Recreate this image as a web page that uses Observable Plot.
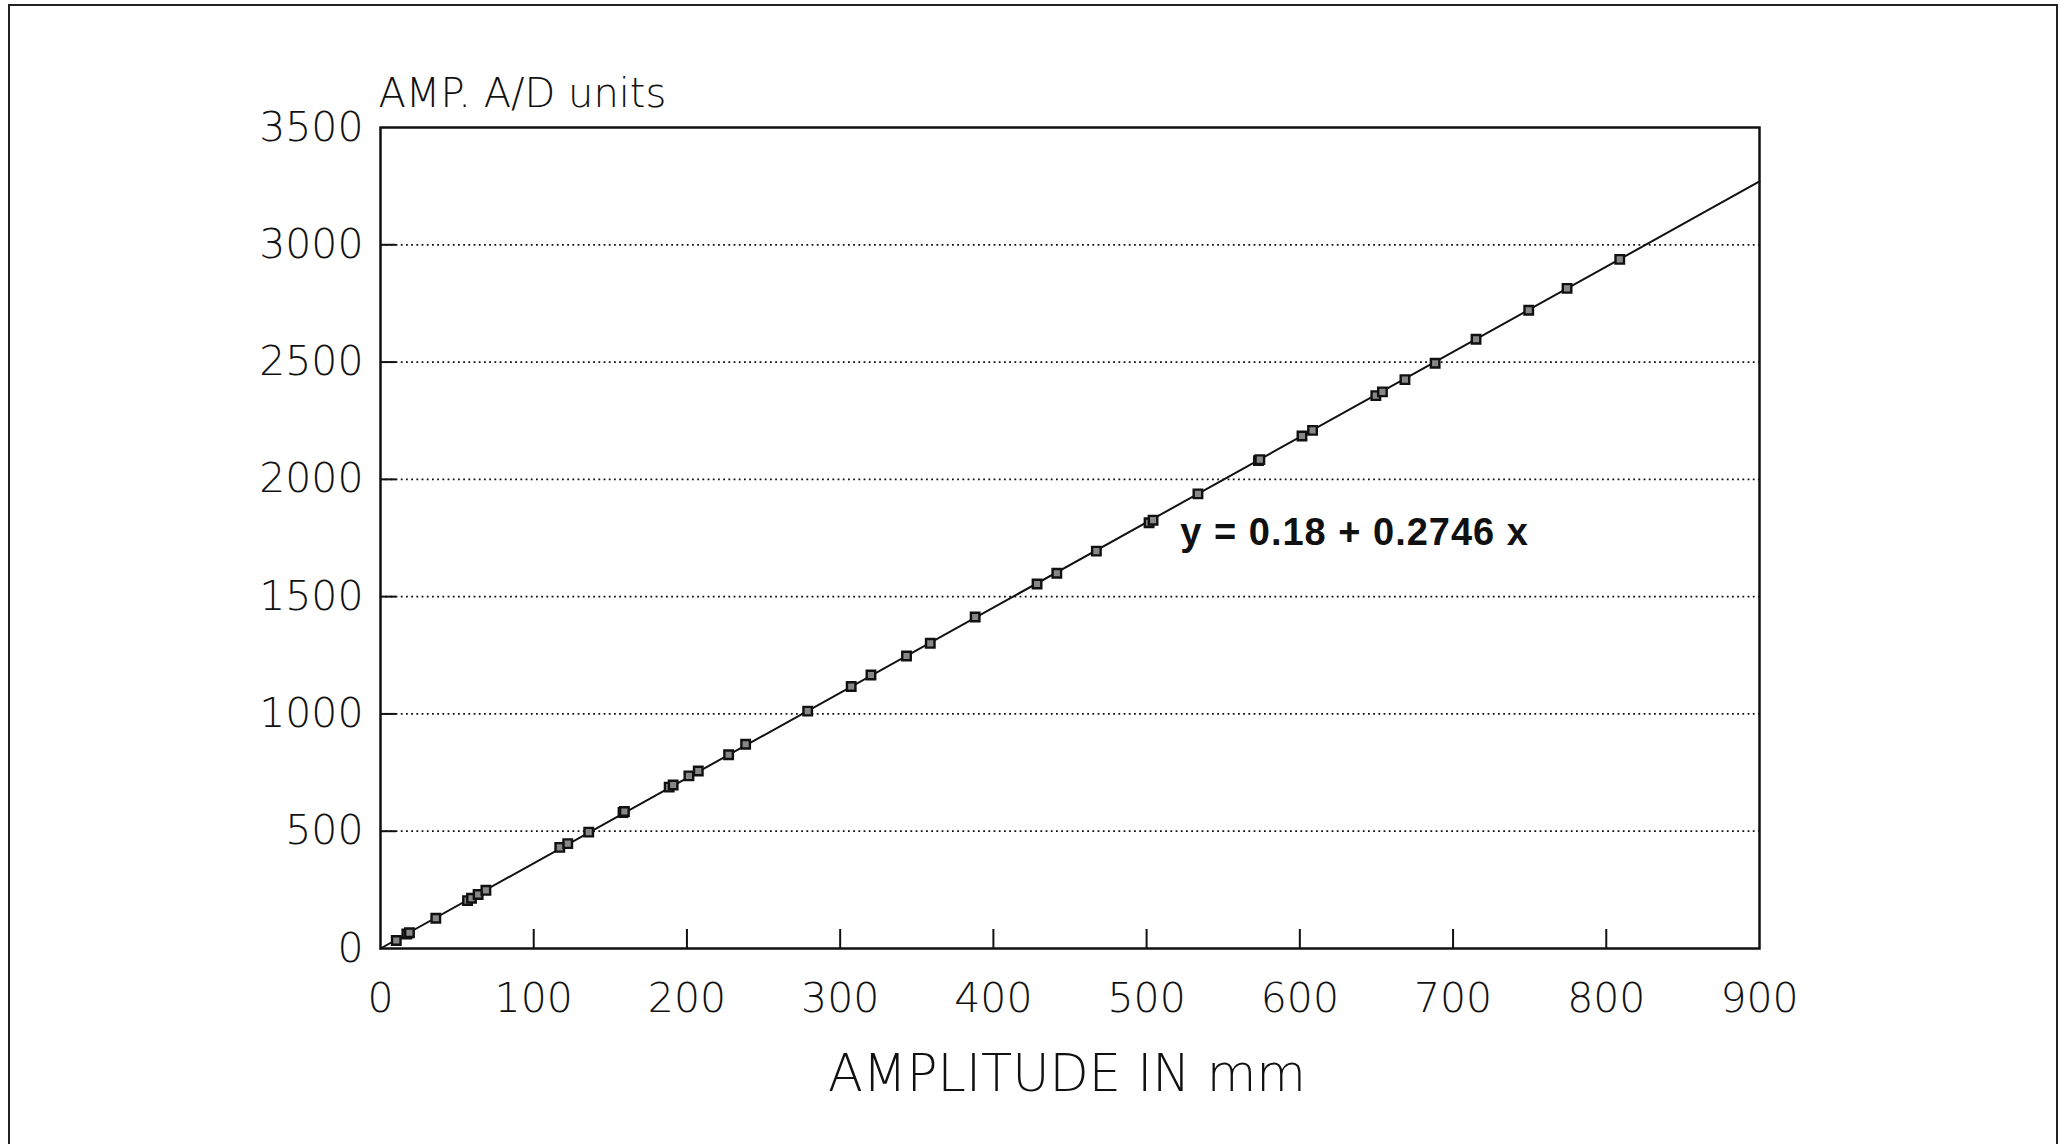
<!DOCTYPE html>
<html>
<head>
<meta charset="utf-8">
<script src="https://cdn.jsdelivr.net/npm/d3@7"></script>
<script src="https://cdn.jsdelivr.net/npm/@observablehq/plot@0.6"></script>
<style>
  html, body { margin: 0; padding: 0; background: #fff; color: #111; }
  #wrap { position: relative; width: 2068px; height: 1144px; overflow: hidden; }
  #border { position: absolute; left: 8px; top: 4px; width: 2046px; height: 1140px; border: 2px solid #222; pointer-events: none; }
  .eq text { letter-spacing: 1px; }
</style>
</head>
<body>
<div id="wrap"><div id="border"></div></div>
<script>
// ---- data ----
const amplitudeMm = [10.3, 17.2, 18.9, 36.1, 56.8, 59.4, 63.7, 68.8, 117.0, 122.2, 135.9, 158.3, 159.2,
  188.4, 191.0, 201.3, 207.4, 227.2, 238.3, 278.8, 307.2, 320.1, 343.3, 358.8, 388.1, 428.5, 441.4,
  467.2, 501.6, 504.2, 533.5, 573.0, 573.9, 601.4, 608.3, 649.6, 653.9, 668.6, 688.3, 715.0, 749.4,
  774.4, 808.8];
const ampAD = [34, 62, 67, 129, 204, 214, 230, 248, 431, 447, 496, 580, 584,
  688, 697, 736, 757, 826, 871, 1012, 1117, 1166, 1247, 1301, 1413, 1554, 1600,
  1694, 1815, 1826, 1938, 2080, 2084, 2185, 2209, 2357, 2373, 2425, 2495, 2597, 2721,
  2814, 2938];
const fitX = [0, 900];
const fitY = [0, 3270];
const xTicks = [0, 100, 200, 300, 400, 500, 600, 700, 800, 900];
const yTicks = [0, 500, 1000, 1500, 2000, 2500, 3000, 3500];
const gridY = [500, 1000, 1500, 2000, 2500, 3000];
const equationText = ["y = 0.18 + 0.2746 x"];
const equationX = [522];
const equationY = [1770];
const yLabel = ["AMP. A/D units"];
const xLabel = ["AMPLITUDE IN mm"];

// ---- layout ----
const W = 2068, H = 1144;
const mL = 380, mR = 309, mT = 127, mB = 196;
const plotW = W - mL - mR, plotH = H - mT - mB;
const font = "'DejaVu Sans', 'Liberation Sans', sans-serif";

const points = amplitudeMm.map((x, i) => ({x, y: ampAD[i]}));
const fit = fitX.map((x, i) => ({x, y: fitY[i]}));
const eq = equationText.map((t, i) => ({t, x: equationX[i], y: equationY[i]}));

const chart = Plot.plot({
  width: W, height: H,
  marginLeft: mL, marginRight: mR, marginTop: mT, marginBottom: mB,
  style: {fontFamily: font, fontSize: "40px", color: "#111", background: "transparent", overflow: "visible"},
  x: {domain: [0, 900]},
  y: {domain: [0, 3500]},
  marks: [
    Plot.ruleY(gridY, {y: d => d, stroke: "#111", strokeWidth: 1.8, strokeDasharray: "1.8,3.4"}),
    Plot.tickY(gridY, {y: d => d, stroke: "#111", strokeWidth: 2, insetRight: plotW - 16}),
    Plot.tickX(xTicks.slice(1, -1), {x: d => d, stroke: "#111", strokeWidth: 2, insetTop: plotH - 19}),
    Plot.axisY({ticks: yTicks, tickSize: 0, tickPadding: 17, tickFormat: d => String(d), fontSize: 41, fontWeight: 200, label: null}),
    Plot.axisX({ticks: xTicks, tickSize: 0, tickPadding: 34, tickFormat: d => String(d), fontSize: 41, fontWeight: 200, label: null}),
    Plot.line(fit, {x: "x", y: "y", stroke: "#111", strokeWidth: 2}),
    Plot.dot(points, {x: "x", y: "y", symbol: "square", r: 4.8, fill: "#888", stroke: "#111", strokeWidth: 2.4}),
    Plot.text(eq, {x: "x", y: "y", text: "t", textAnchor: "start", lineAnchor: "middle", className: "eq",
      fontFamily: "'Liberation Sans', Arial, sans-serif", fontWeight: "bold", fontSize: 38, fill: "#111"}),
    Plot.text(yLabel, {text: d => d, frameAnchor: "top-left", textAnchor: "start", lineAnchor: "bottom",
      dx: -2, dy: -21, fontSize: 40, fontWeight: 200, fill: "#111"}),
    Plot.text(xLabel, {text: d => d, frameAnchor: "bottom", textAnchor: "middle", lineAnchor: "bottom",
      dx: -3, dy: 142, fontSize: 51, fontWeight: 200, fill: "#111"}),
    Plot.frame({stroke: "#111", strokeWidth: 2.5})
  ]
});
chart.style.position = "absolute";
chart.style.left = "0px";
chart.style.top = "0px";
document.getElementById("wrap").appendChild(chart);
</script>
</body>
</html>
